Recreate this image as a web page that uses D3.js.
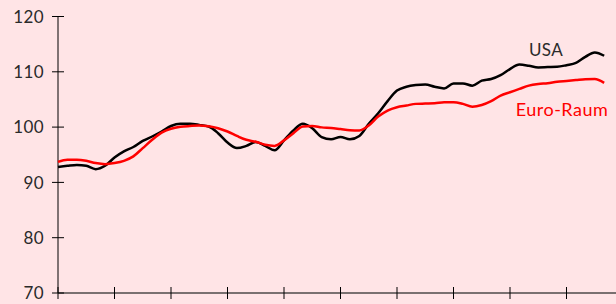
<!DOCTYPE html>
<html>
<head>
<meta charset="utf-8">
<script src="https://cdn.jsdelivr.net/npm/d3@7"></script>
<style>
  body { margin: 0; background: #ffe4e6; }
  svg { display: block; font-family: Lato, "Open Sans", sans-serif; }
</style>
</head>
<body>
<div id="chart"></div>
<script>
// two-monthly index values, starting at the first year tick
let startYear = 1995
let stepYears = 1 / 6

let usaValues = [
  92.8, 93.0, 93.15, 93.0, 92.4, 93.0, 94.5, 95.6, 96.4, 97.5,
  98.3, 99.2, 100.2, 100.6, 100.6, 100.4, 100.1, 98.9, 97.2, 96.2,
  96.6, 97.3, 96.6, 95.8, 97.6, 99.4, 100.6, 99.8, 98.2, 97.8,
  98.2, 97.8, 98.4, 100.6, 102.5, 104.7, 106.6, 107.3, 107.6, 107.7,
  107.3, 107.0, 107.9, 107.9, 107.5, 108.4, 108.7, 109.4, 110.5, 111.3,
  111.1, 110.8, 110.85, 110.9, 111.2, 111.6, 112.7, 113.5, 112.9
]

let euroValues = [
  93.7, 94.1, 94.1, 93.9, 93.5, 93.3, 93.5, 93.9, 94.7, 96.2,
  97.7, 99.0, 99.7, 100.05, 100.2, 100.3, 100.15, 99.8, 99.2, 98.4,
  97.7, 97.35, 96.8, 96.6, 97.6, 98.9, 100.1, 100.2, 99.95, 99.85,
  99.65, 99.45, 99.4, 100.3, 101.9, 103.0, 103.6, 103.9, 104.2, 104.25,
  104.3, 104.5, 104.5, 104.2, 103.7, 104.0, 104.7, 105.7, 106.3, 106.9,
  107.5, 107.8, 107.95, 108.2, 108.35, 108.5, 108.65, 108.7, 108.0
]

let yTicks = [70, 80, 90, 100, 110, 120]
let xTicks = [1995, 1996, 1997, 1998, 1999, 2000, 2001, 2002, 2003, 2004]

let seriesNames = ["USA", "Euro-Raum"]

let width = 616
let height = 304

let svg = d3.select("#chart").append("svg")
  .attr("width", width)
  .attr("height", height)

svg.append("rect")
  .attr("width", width)
  .attr("height", height)
  .attr("fill", "#ffe4e6")

let x = d3.scaleLinear()
  .domain([1995, 1995 + 558 / 56.5])
  .range([58, 616])

let y = d3.scaleLinear()
  .domain([70, 120])
  .range([293, 16.5])

// x axis: grey line, black ticks crossing it
svg.append("line")
  .attr("x1", 58).attr("x2", 616)
  .attr("y1", y(70)).attr("y2", y(70))
  .attr("stroke", "#7a7070")
  .attr("stroke-width", 2)

svg.append("g")
  .selectAll("line")
  .data(xTicks)
  .enter().append("line")
    .attr("x1", d => x(d)).attr("x2", d => x(d))
    .attr("y1", y(70) - 6).attr("y2", y(70) + 6)
    .attr("stroke", "#000")
    .attr("stroke-width", 1)

// y axis
svg.append("line")
  .attr("x1", 58).attr("x2", 58)
  .attr("y1", y(120)).attr("y2", y(70))
  .attr("stroke", "#000")
  .attr("stroke-width", 1)

let yt = svg.append("g")
  .selectAll("g")
  .data(yTicks)
  .enter().append("g")
    .attr("transform", d => "translate(0," + y(d) + ")")

yt.append("line")
  .attr("x1", 52).attr("x2", 64)
  .attr("stroke", "#000")
  .attr("stroke-width", 1)

yt.append("text")
  .attr("x", 44)
  .attr("dy", "0.36em")
  .attr("text-anchor", "end")
  .attr("font-size", 17)
  .attr("letter-spacing", 0.4)
  .attr("fill", "#2a2a2a")
  .text(d => d)

// lines
let line = d3.line()
  .x((d, i) => x(startYear + i * stepYears))
  .y(d => y(d))
  .curve(d3.curveMonotoneX)

svg.append("path")
  .datum(usaValues)
  .attr("fill", "none")
  .attr("stroke", "#000")
  .attr("stroke-width", 2.5)
  .attr("d", line)

svg.append("path")
  .datum(euroValues)
  .attr("fill", "none")
  .attr("stroke", "#ff0000")
  .attr("stroke-width", 2.5)
  .attr("d", line)

// series labels
svg.append("text")
  .attr("x", 546)
  .attr("y", 56)
  .attr("text-anchor", "middle")
  .attr("font-size", 17)
  .attr("letter-spacing", 0.4)
  .attr("fill", "#2a2a2a")
  .text(seriesNames[0])

svg.append("text")
  .attr("x", 562)
  .attr("y", 116)
  .attr("text-anchor", "middle")
  .attr("font-size", 18)
  .attr("letter-spacing", 0.5)
  .attr("fill", "#ff0000")
  .text(seriesNames[1])
</script>
</body>
</html>
